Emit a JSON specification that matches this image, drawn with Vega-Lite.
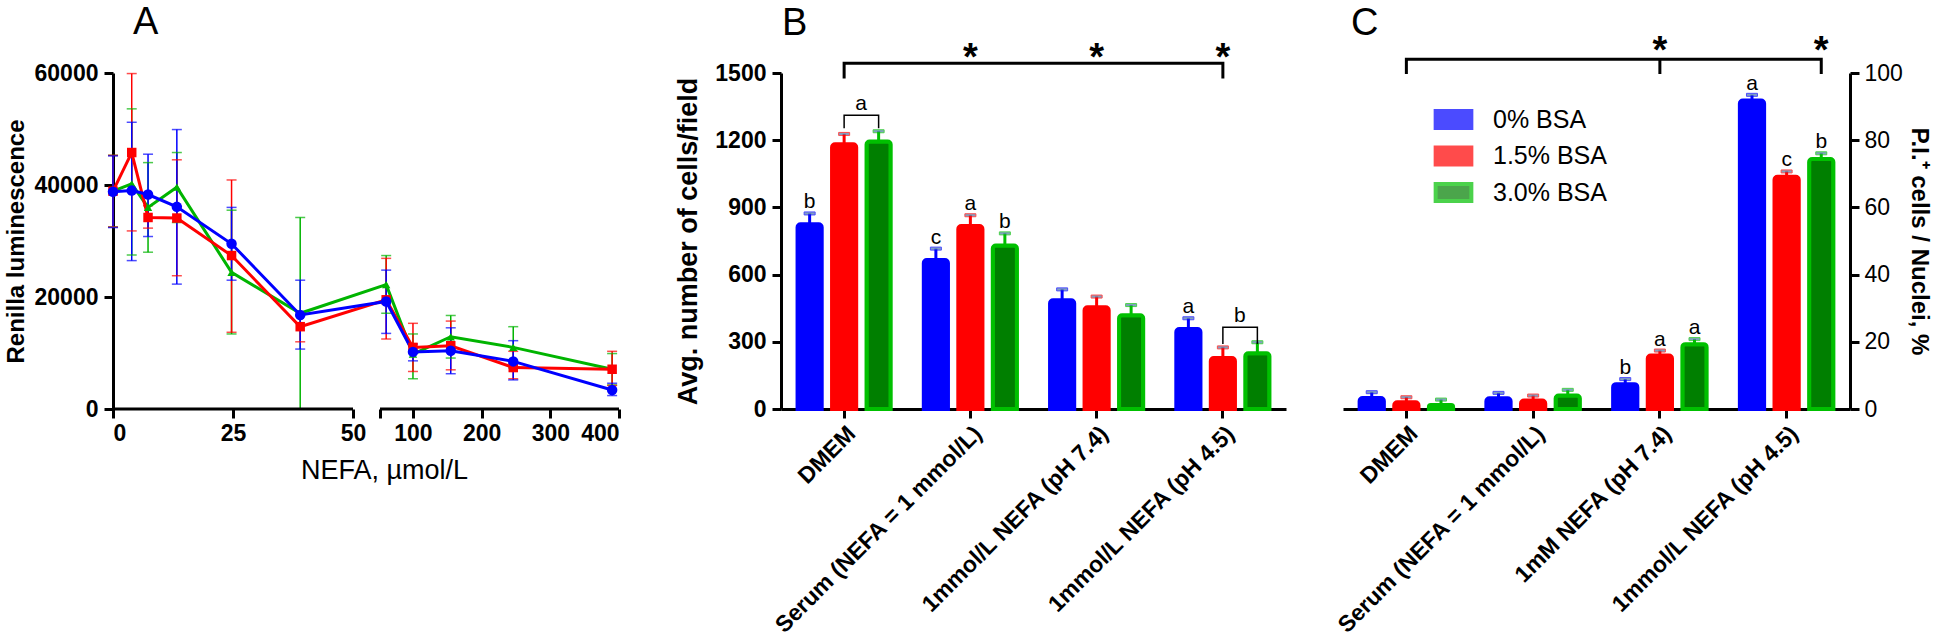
{
  "$schema": "https://vega.github.io/schema/vega-lite/v6.json",
  "background": "white",
  "padding": {"left": 4, "top": 4, "right": 2, "bottom": 2},
  "config": {
    "view": {"stroke": null},
    "font": "Liberation Sans",
    "axis": {"domainColor": "black", "domainWidth": 3, "tickColor": "black", "tickWidth": 3, "tickSize": 9, "labelColor": "black", "titleColor": "black", "grid": false, "labelFont": "Liberation Sans", "titleFont": "Liberation Sans", "labelFontSize": 23, "labelFontWeight": "bold", "titleFontSize": 27, "titleFontWeight": "bold", "labelLimit": 0},
    "title": {"font": "Liberation Sans", "fontSize": 38, "fontWeight": "normal", "anchor": "start", "frame": "group", "color": "black"},
    "legend": {"labelFont": "Liberation Sans", "labelColor": "black"}
  },
  "datasets": {
    "lum": [
      {"s": "3.0% BSA", "x": 0, "y": 38900, "lo": 32500, "hi": 45300},
      {"s": "3.0% BSA", "x": 3.9, "y": 40200, "lo": 27500, "hi": 53600},
      {"s": "3.0% BSA", "x": 7.3, "y": 36000, "lo": 28000, "hi": 44000},
      {"s": "3.0% BSA", "x": 13.3, "y": 39600, "lo": 33300, "hi": 45800},
      {"s": "3.0% BSA", "x": 24.7, "y": 24400, "lo": 13400, "hi": 35500},
      {"s": "3.0% BSA", "x": 39, "y": 17100, "lo": 0, "hi": 34200},
      {"s": "3.0% BSA", "x": 61, "y": 22200, "lo": 17100, "hi": 27400},
      {"s": "3.0% BSA", "x": 100, "y": 9800, "lo": 5400, "hi": 13400},
      {"s": "3.0% BSA", "x": 155, "y": 12900, "lo": 9100, "hi": 16700},
      {"s": "3.0% BSA", "x": 246, "y": 11000, "lo": 7300, "hi": 14700},
      {"s": "3.0% BSA", "x": 390, "y": 7100, "lo": 4300, "hi": 9900},
      {"s": "1.5% BSA", "x": 0, "y": 38900, "lo": 32500, "hi": 45300},
      {"s": "1.5% BSA", "x": 3.9, "y": 45800, "lo": 31800, "hi": 59900},
      {"s": "1.5% BSA", "x": 7.3, "y": 34200, "lo": 32300, "hi": 36300},
      {"s": "1.5% BSA", "x": 13.3, "y": 34100, "lo": 23800, "hi": 44500},
      {"s": "1.5% BSA", "x": 24.7, "y": 27400, "lo": 13700, "hi": 40900},
      {"s": "1.5% BSA", "x": 39, "y": 14700, "lo": 12000, "hi": 17300},
      {"s": "1.5% BSA", "x": 61, "y": 19500, "lo": 12500, "hi": 26900},
      {"s": "1.5% BSA", "x": 100, "y": 11000, "lo": 6700, "hi": 15300},
      {"s": "1.5% BSA", "x": 155, "y": 11300, "lo": 7000, "hi": 15700},
      {"s": "1.5% BSA", "x": 246, "y": 7400, "lo": 5400, "hi": 10300},
      {"s": "1.5% BSA", "x": 390, "y": 7100, "lo": 4200, "hi": 10300},
      {"s": "0% BSA", "x": 0, "y": 38800, "lo": 32400, "hi": 45200},
      {"s": "0% BSA", "x": 3.9, "y": 39000, "lo": 26500, "hi": 51200},
      {"s": "0% BSA", "x": 7.3, "y": 38300, "lo": 30800, "hi": 45500},
      {"s": "0% BSA", "x": 13.3, "y": 36100, "lo": 22300, "hi": 49900},
      {"s": "0% BSA", "x": 24.7, "y": 29500, "lo": 23000, "hi": 36000},
      {"s": "0% BSA", "x": 39, "y": 16800, "lo": 10700, "hi": 23000},
      {"s": "0% BSA", "x": 61, "y": 19200, "lo": 13500, "hi": 24800},
      {"s": "0% BSA", "x": 100, "y": 10200, "lo": 8600, "hi": 11600},
      {"s": "0% BSA", "x": 155, "y": 10400, "lo": 6300, "hi": 14500},
      {"s": "0% BSA", "x": 246, "y": 8500, "lo": 5200, "hi": 12200},
      {"s": "0% BSA", "x": 390, "y": 3400, "lo": 2400, "hi": 4600}
    ],
    "cells": [
      {"cat": "DMEM", "grp": "0% BSA", "v": 825, "hi": 873},
      {"cat": "DMEM", "grp": "1.5% BSA", "v": 1182, "hi": 1228},
      {"cat": "DMEM", "grp": "3.0% BSA", "v": 1194, "hi": 1240},
      {"cat": "Serum (NEFA = 1 mmol/L)", "grp": "0% BSA", "v": 665, "hi": 716},
      {"cat": "Serum (NEFA = 1 mmol/L)", "grp": "1.5% BSA", "v": 817, "hi": 865},
      {"cat": "Serum (NEFA = 1 mmol/L)", "grp": "3.0% BSA", "v": 730, "hi": 784},
      {"cat": "1mmol/L NEFA (pH 7.4)", "grp": "0% BSA", "v": 485, "hi": 534},
      {"cat": "1mmol/L NEFA (pH 7.4)", "grp": "1.5% BSA", "v": 454, "hi": 502},
      {"cat": "1mmol/L NEFA (pH 7.4)", "grp": "3.0% BSA", "v": 418, "hi": 464},
      {"cat": "1mmol/L NEFA (pH 4.5)", "grp": "0% BSA", "v": 357, "hi": 405},
      {"cat": "1mmol/L NEFA (pH 4.5)", "grp": "1.5% BSA", "v": 228, "hi": 275},
      {"cat": "1mmol/L NEFA (pH 4.5)", "grp": "3.0% BSA", "v": 249, "hi": 298}
    ],
    "cellsLetters": [
      {"cat": "DMEM", "grp": "0% BSA", "t": "b", "y": 873, "kind": "bar"},
      {"cat": "Serum (NEFA = 1 mmol/L)", "grp": "0% BSA", "t": "c", "y": 716, "kind": "bar"},
      {"cat": "Serum (NEFA = 1 mmol/L)", "grp": "1.5% BSA", "t": "a", "y": 865, "kind": "bar"},
      {"cat": "Serum (NEFA = 1 mmol/L)", "grp": "3.0% BSA", "t": "b", "y": 784, "kind": "bar"},
      {"cat": "1mmol/L NEFA (pH 4.5)", "grp": "0% BSA", "t": "a", "y": 405, "kind": "bar"},
      {"cat": "DMEM", "grp": "1.5% BSA", "t": "a", "y": 1311, "kind": "bracket"},
      {"cat": "1mmol/L NEFA (pH 4.5)", "grp": "1.5% BSA", "t": "b", "y": 365, "kind": "bracket"}
    ],
    "cellsBrackets": [
      {"id": "s1", "kind": "small", "cat": "DMEM", "grp": "1.5% BSA", "y": 1253, "o": 1},
      {"id": "s1", "kind": "small", "cat": "DMEM", "grp": "1.5% BSA", "y": 1311, "o": 2},
      {"id": "s1", "kind": "small", "cat": "DMEM", "grp": "3.0% BSA", "y": 1311, "o": 3},
      {"id": "s1", "kind": "small", "cat": "DMEM", "grp": "3.0% BSA", "y": 1253, "o": 4},
      {"id": "s2", "kind": "small", "cat": "1mmol/L NEFA (pH 4.5)", "grp": "1.5% BSA", "y": 290, "o": 1},
      {"id": "s2", "kind": "small", "cat": "1mmol/L NEFA (pH 4.5)", "grp": "1.5% BSA", "y": 365, "o": 2},
      {"id": "s2", "kind": "small", "cat": "1mmol/L NEFA (pH 4.5)", "grp": "3.0% BSA", "y": 365, "o": 3},
      {"id": "s2", "kind": "small", "cat": "1mmol/L NEFA (pH 4.5)", "grp": "3.0% BSA", "y": 290, "o": 4},
      {"id": "b1", "kind": "big", "cat": "DMEM", "grp": "1.5% BSA", "y": 1476, "o": 1},
      {"id": "b1", "kind": "big", "cat": "DMEM", "grp": "1.5% BSA", "y": 1543, "o": 2},
      {"id": "b1", "kind": "big", "cat": "1mmol/L NEFA (pH 4.5)", "grp": "1.5% BSA", "y": 1543, "o": 3},
      {"id": "b1", "kind": "big", "cat": "1mmol/L NEFA (pH 4.5)", "grp": "1.5% BSA", "y": 1476, "o": 4}
    ],
    "cellsStars": [
      {"cat": "Serum (NEFA = 1 mmol/L)", "grp": "1.5% BSA", "y": 1512},
      {"cat": "1mmol/L NEFA (pH 7.4)", "grp": "1.5% BSA", "y": 1512},
      {"cat": "1mmol/L NEFA (pH 4.5)", "grp": "1.5% BSA", "y": 1512}
    ],
    "pi": [
      {"cat": "DMEM", "grp": "0% BSA", "v": 3.3, "hi": 5.0},
      {"cat": "DMEM", "grp": "1.5% BSA", "v": 2.0, "hi": 3.5},
      {"cat": "DMEM", "grp": "3.0% BSA", "v": 1.2, "hi": 2.8},
      {"cat": "Serum (NEFA = 1 mmol/L)", "grp": "0% BSA", "v": 3.2, "hi": 4.8},
      {"cat": "Serum (NEFA = 1 mmol/L)", "grp": "1.5% BSA", "v": 2.5, "hi": 4.0},
      {"cat": "Serum (NEFA = 1 mmol/L)", "grp": "3.0% BSA", "v": 4.0, "hi": 5.7},
      {"cat": "1mM NEFA (pH 7.4)", "grp": "0% BSA", "v": 7.4, "hi": 8.9},
      {"cat": "1mM NEFA (pH 7.4)", "grp": "1.5% BSA", "v": 15.9, "hi": 17.4},
      {"cat": "1mM NEFA (pH 7.4)", "grp": "3.0% BSA", "v": 19.3, "hi": 20.8},
      {"cat": "1mmol/L NEFA (pH 4.5)", "grp": "0% BSA", "v": 91.8, "hi": 93.5},
      {"cat": "1mmol/L NEFA (pH 4.5)", "grp": "1.5% BSA", "v": 69.1, "hi": 70.7},
      {"cat": "1mmol/L NEFA (pH 4.5)", "grp": "3.0% BSA", "v": 74.4, "hi": 76.1}
    ],
    "piLetters": [
      {"cat": "1mM NEFA (pH 7.4)", "grp": "0% BSA", "t": "b", "y": 8.9},
      {"cat": "1mM NEFA (pH 7.4)", "grp": "1.5% BSA", "t": "a", "y": 17.4},
      {"cat": "1mM NEFA (pH 7.4)", "grp": "3.0% BSA", "t": "a", "y": 20.8},
      {"cat": "1mmol/L NEFA (pH 4.5)", "grp": "0% BSA", "t": "a", "y": 93.5},
      {"cat": "1mmol/L NEFA (pH 4.5)", "grp": "1.5% BSA", "t": "c", "y": 70.7},
      {"cat": "1mmol/L NEFA (pH 4.5)", "grp": "3.0% BSA", "t": "b", "y": 76.1}
    ],
    "piBrackets": [
      {"id": "b1", "cat": "DMEM", "grp": "1.5% BSA", "y": 99.7, "o": 1},
      {"id": "b1", "cat": "DMEM", "grp": "1.5% BSA", "y": 104.1, "o": 2},
      {"id": "b1", "cat": "1mmol/L NEFA (pH 4.5)", "grp": "3.0% BSA", "y": 104.1, "o": 3},
      {"id": "b1", "cat": "1mmol/L NEFA (pH 4.5)", "grp": "3.0% BSA", "y": 99.7, "o": 4},
      {"id": "m1", "cat": "1mM NEFA (pH 7.4)", "grp": "1.5% BSA", "y": 104.1, "o": 1},
      {"id": "m1", "cat": "1mM NEFA (pH 7.4)", "grp": "1.5% BSA", "y": 99.7, "o": 2}
    ],
    "piStars": [
      {"cat": "1mM NEFA (pH 7.4)", "grp": "1.5% BSA", "y": 103},
      {"cat": "1mmol/L NEFA (pH 4.5)", "grp": "3.0% BSA", "y": 103}
    ]
  },
  "bounds": "flush",
  "spacing": 162,
  "resolve": {
    "scale": {"x": "independent", "y": "independent", "xOffset": "independent", "color": "independent", "fill": "independent", "stroke": "independent", "shape": "independent", "size": "independent"},
    "legend": {"color": "independent", "fill": "independent", "stroke": "independent", "shape": "independent", "size": "independent"}
  },
  "hconcat": [
    {
      "width": 506,
      "height": 336,
      "title": {"text": "A", "dx": 20, "offset": 20},
      "layer": [
        {
          "data": {"name": "lum"},
          "mark": {"type": "rule", "strokeWidth": 1.5},
          "encoding": {
            "x": {"field": "x", "type": "quantitative", "scale": {"type": "linear", "domain": [0, 50, 52, 400], "range": [0, 240, 267, 506], "nice": false, "zero": false}, "axis": {"values": [0, 25, 50, 52, 100, 200, 300, 400], "domain": false, "labelExpr": "datum.value == 52 ? '' : datum.label", "title": "NEFA, µmol/L", "titleFontWeight": "normal", "titleFontSize": 27, "titlePadding": 12, "labelPadding": 4, "titleX": 271}},
            "y": {"field": "lo", "type": "quantitative", "scale": {"type": "linear", "domain": [0, 60000], "range": [336, 0], "nice": false, "zero": true}, "axis": {"values": [0, 20000, 40000, 60000], "format": "d", "title": "Renilla luminescence", "titleFontSize": 24, "labelPadding": 6, "titlePadding": 6}},
            "y2": {"field": "hi"},
            "color": {"field": "s", "type": "nominal", "scale": {"domain": ["3.0% BSA", "1.5% BSA", "0% BSA"], "range": ["#00b400", "#ff0000", "#0000ff"]}, "legend": null}
          }
        },
        {
          "data": {"name": "lum"},
          "mark": {"type": "tick", "orient": "horizontal", "size": 10, "thickness": 1.5},
          "encoding": {
            "x": {"field": "x", "type": "quantitative"},
            "y": {"field": "lo", "type": "quantitative"},
            "color": {"field": "s", "type": "nominal", "legend": null}
          }
        },
        {
          "data": {"name": "lum"},
          "mark": {"type": "tick", "orient": "horizontal", "size": 10, "thickness": 1.5},
          "encoding": {
            "x": {"field": "x", "type": "quantitative"},
            "y": {"field": "hi", "type": "quantitative"},
            "color": {"field": "s", "type": "nominal", "legend": null}
          }
        },
        {
          "data": {"name": "lum"},
          "mark": {"type": "line", "strokeWidth": 3},
          "encoding": {
            "x": {"field": "x", "type": "quantitative"},
            "y": {"field": "y", "type": "quantitative"},
            "color": {"field": "s", "type": "nominal", "legend": null}
          }
        },
        {
          "data": {"name": "lum"},
          "mark": {"type": "point", "filled": true, "opacity": 1},
          "encoding": {
            "x": {"field": "x", "type": "quantitative"},
            "y": {"field": "y", "type": "quantitative"},
            "color": {"field": "s", "type": "nominal", "legend": null},
            "shape": {"field": "s", "type": "nominal", "scale": {"domain": ["3.0% BSA", "1.5% BSA", "0% BSA"], "range": ["triangle-up", "square", "circle"]}, "legend": null},
            "size": {"field": "s", "type": "nominal", "scale": {"domain": ["3.0% BSA", "1.5% BSA", "0% BSA"], "range": [70, 110, 110]}, "legend": null}
          }
        },
        {
          "data": {"values": [{}]},
          "mark": {"type": "rule", "strokeWidth": 3, "color": "black"},
          "encoding": {"x": {"datum": 0, "type": "quantitative"}, "x2": {"datum": 50}, "y": {"datum": 0, "type": "quantitative"}}
        },
        {
          "data": {"values": [{}]},
          "mark": {"type": "rule", "strokeWidth": 3, "color": "black"},
          "encoding": {"x": {"datum": 52, "type": "quantitative"}, "x2": {"datum": 400}, "y": {"datum": 0, "type": "quantitative"}}
        }
      ]
    },
    {
      "bounds": "flush",
      "spacing": 57,
      "resolve": {
        "scale": {"x": "independent", "y": "independent", "xOffset": "independent", "color": "independent", "fill": "independent", "stroke": "independent"},
        "legend": {"color": "independent", "fill": "independent", "stroke": "independent"}
      },
      "hconcat": [
        {
          "width": 505,
          "height": 336,
          "title": {"text": "B", "dx": 1, "offset": -3},
          "encoding": {
            "x": {"field": "cat", "type": "nominal", "sort": null, "scale": {"domain": ["DMEM", "Serum (NEFA = 1 mmol/L)", "1mmol/L NEFA (pH 7.4)", "1mmol/L NEFA (pH 4.5)"], "paddingInner": 0, "paddingOuter": 0}, "axis": {"title": null, "labelAngle": -45, "labelFontSize": 23, "labelPadding": 4}},
            "xOffset": {"field": "grp", "type": "nominal", "scale": {"domain": ["0% BSA", "1.5% BSA", "3.0% BSA"], "paddingInner": 0.3, "paddingOuter": 0.48}}
          },
          "layer": [
            {
              "data": {"name": "cells"},
              "mark": {"type": "rule", "strokeWidth": 3},
              "encoding": {
                "y": {"field": "v", "type": "quantitative", "scale": {"domain": [0, 1500], "nice": false}, "axis": {"values": [0, 300, 600, 900, 1200, 1500], "format": "d", "title": "Avg. number of cells/field", "labelPadding": 6, "titlePadding": 12}},
                "y2": {"field": "hi"},
                "stroke": {"field": "grp", "type": "nominal", "scale": {"domain": ["0% BSA", "1.5% BSA", "3.0% BSA"], "range": ["#0000ff", "#ff0000", "#00c000"]}, "legend": null}
              }
            },
            {
              "data": {"name": "cells"},
              "mark": {"type": "tick", "orient": "horizontal", "size": 11, "thickness": 3},
              "encoding": {
                "y": {"field": "hi", "type": "quantitative"},
                "stroke": {"field": "grp", "type": "nominal", "legend": null}
              }
            },
            {
              "data": {"name": "cells"},
              "mark": {"type": "bar", "strokeWidth": 4, "cornerRadiusTopLeft": 3, "cornerRadiusTopRight": 3},
              "encoding": {
                "y": {"field": "v", "type": "quantitative"},
                "fill": {"field": "grp", "type": "nominal", "scale": {"domain": ["0% BSA", "1.5% BSA", "3.0% BSA"], "range": ["#0000ff", "#ff0000", "#007f00"]}, "legend": null},
                "stroke": {"field": "grp", "type": "nominal", "legend": null}
              }
            },
            {
              "data": {"name": "cellsLetters"},
              "transform": [{"filter": "datum.kind == 'bar'"}],
              "mark": {"type": "text", "baseline": "alphabetic", "dy": -5, "fontSize": 21, "color": "black"},
              "encoding": {"y": {"field": "y", "type": "quantitative"}, "text": {"field": "t"}}
            },
            {
              "data": {"name": "cellsLetters"},
              "transform": [{"filter": "datum.kind == 'bracket'"}],
              "mark": {"type": "text", "baseline": "alphabetic", "dy": -5, "dx": 17, "fontSize": 21, "color": "black"},
              "encoding": {"y": {"field": "y", "type": "quantitative"}, "text": {"field": "t"}}
            },
            {
              "data": {"name": "cellsBrackets"},
              "transform": [{"filter": "datum.kind == 'small'"}],
              "mark": {"type": "line", "strokeWidth": 1.5, "color": "black", "clip": false},
              "encoding": {"y": {"field": "y", "type": "quantitative"}, "detail": {"field": "id"}, "order": {"field": "o"}}
            },
            {
              "data": {"name": "cellsBrackets"},
              "transform": [{"filter": "datum.kind == 'big'"}],
              "mark": {"type": "line", "strokeWidth": 3, "color": "black", "clip": false},
              "encoding": {"y": {"field": "y", "type": "quantitative"}, "detail": {"field": "id"}, "order": {"field": "o"}}
            },
            {
              "data": {"name": "cellsStars"},
              "mark": {"type": "text", "baseline": "alphabetic", "fontSize": 38, "fontWeight": "bold", "color": "black", "clip": false, "text": "*"},
              "encoding": {"y": {"field": "y", "type": "quantitative"}}
            }
          ]
        },
        {
          "width": 507,
          "height": 336,
          "title": {"text": "C", "dx": 8, "offset": -10},
          "encoding": {
            "x": {"field": "cat", "type": "nominal", "sort": null, "scale": {"domain": ["DMEM", "Serum (NEFA = 1 mmol/L)", "1mM NEFA (pH 7.4)", "1mmol/L NEFA (pH 4.5)"], "paddingInner": 0, "paddingOuter": 0}, "axis": {"title": null, "labelAngle": -45, "labelFontSize": 23, "labelPadding": 4}},
            "xOffset": {"field": "grp", "type": "nominal", "scale": {"domain": ["0% BSA", "1.5% BSA", "3.0% BSA"], "paddingInner": 0.3, "paddingOuter": 0.48}}
          },
          "layer": [
            {
              "data": {"name": "pi"},
              "mark": {"type": "rule", "strokeWidth": 3},
              "encoding": {
                "y": {"field": "v", "type": "quantitative", "scale": {"domain": [0, 100], "nice": false}, "axis": {"orient": "right", "values": [0, 20, 40, 60, 80, 100], "labelFontWeight": "normal", "title": "P.I.⁺ cells / Nuclei, %", "titleFontSize": 24, "titleAngle": 90, "labelPadding": 5, "titlePadding": 4}},
                "y2": {"field": "hi"},
                "stroke": {"field": "grp", "type": "nominal", "scale": {"domain": ["0% BSA", "1.5% BSA", "3.0% BSA"], "range": ["#0000ff", "#ff0000", "#00c000"]}, "legend": {"orient": "none", "legendX": 98, "legendY": 34, "title": null, "symbolType": "M-1.7,-0.8H1.7V0.8H-1.7Z", "symbolSize": 441, "symbolStrokeWidth": 4, "symbolOpacity": 1, "labelFontSize": 25, "labelOffset": 27, "rowPadding": 3.5, "padding": 0}}
              }
            },
            {
              "data": {"name": "pi"},
              "mark": {"type": "tick", "orient": "horizontal", "size": 11, "thickness": 3},
              "encoding": {
                "y": {"field": "hi", "type": "quantitative"},
                "stroke": {"field": "grp", "type": "nominal"}
              }
            },
            {
              "data": {"name": "pi"},
              "mark": {"type": "bar", "strokeWidth": 4, "cornerRadiusTopLeft": 3, "cornerRadiusTopRight": 3},
              "encoding": {
                "y": {"field": "v", "type": "quantitative"},
                "fill": {"field": "grp", "type": "nominal", "scale": {"domain": ["0% BSA", "1.5% BSA", "3.0% BSA"], "range": ["#0000ff", "#ff0000", "#007f00"]}, "legend": {"orient": "none", "legendX": 98, "legendY": 34, "title": null, "symbolType": "M-1.7,-0.8H1.7V0.8H-1.7Z", "symbolSize": 441, "symbolStrokeWidth": 4, "symbolOpacity": 1, "labelFontSize": 25, "labelOffset": 27, "rowPadding": 3.5, "padding": 0}},
                "stroke": {"field": "grp", "type": "nominal"}
              }
            },
            {
              "data": {"name": "piLetters"},
              "mark": {"type": "text", "baseline": "alphabetic", "dy": -5, "fontSize": 21, "color": "black"},
              "encoding": {"y": {"field": "y", "type": "quantitative"}, "text": {"field": "t"}}
            },
            {
              "data": {"name": "piBrackets"},
              "mark": {"type": "line", "strokeWidth": 3, "color": "black", "clip": false},
              "encoding": {"y": {"field": "y", "type": "quantitative"}, "detail": {"field": "id"}, "order": {"field": "o"}}
            },
            {
              "data": {"name": "piStars"},
              "mark": {"type": "text", "baseline": "alphabetic", "fontSize": 38, "fontWeight": "bold", "color": "black", "clip": false, "text": "*"},
              "encoding": {"y": {"field": "y", "type": "quantitative"}}
            }
          ]
        }
      ]
    }
  ]
}
